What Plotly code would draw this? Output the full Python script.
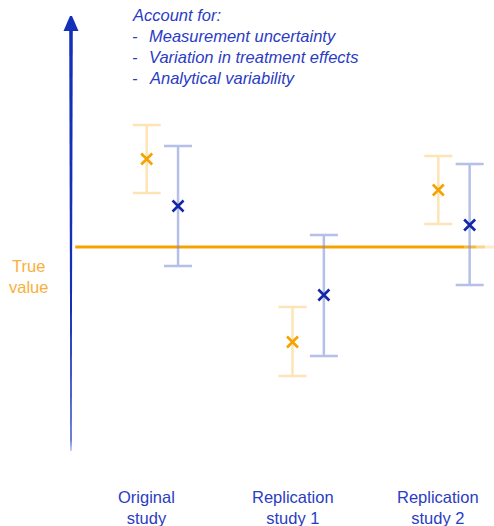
import plotly.graph_objects as go

# Study labels and estimates (effect relative to the true value = 0)
studies = ["Original<br>study", "Replication<br>study 1", "Replication<br>study 2"]

# Reported estimate with its interval
orange_est = [8.8, -9.5, 5.7]
orange_hi = [12.2, -6.0, 9.1]
orange_lo = [5.4, -12.9, 2.3]

# Estimate accounting for additional sources of variability
blue_est = [4.1, -4.8, 2.2]
blue_hi = [10.1, 1.2, 8.3]
blue_lo = [-1.9, -10.9, -3.8]

true_value = 0.0

notes_title = "Account for:"
notes = ["Measurement uncertainty",
         "Variation in treatment effects",
         "Analytical variability"]

ORANGE = "#f5a300"
ORANGE_LIGHT = "rgba(253,205,120,0.55)"
BLUE = "#1228a8"
BLUE_LIGHT = "rgba(120,138,214,0.55)"
AXIS_BLUE = "#1530b8"
TEXT_BLUE = "#2b3cc4"
TEXT_ORANGE = "#f7b03c"

xs = list(range(len(studies)))
blue_offset = 0.215
font_family = "'Liberation Sans', Arial, sans-serif"

fig = go.Figure()

# True value reference line, fading out at the right end
line_start = -0.49
fade_steps = [(line_start, 2.18, 1.0), (2.18, 2.26, 0.75), (2.26, 2.32, 0.45), (2.32, 2.38, 0.2)]
for x0, x1, op in fade_steps:
    fig.add_shape(type="line", xref="x", yref="y", x0=x0, x1=x1,
                  y0=true_value, y1=true_value,
                  line=dict(color=ORANGE, width=3), opacity=op, layer="below")

fig.add_trace(go.Scatter(
    x=xs, y=orange_est, mode="markers",
    marker=dict(symbol="x-thin", size=11, line=dict(color=ORANGE, width=2.6)),
    error_y=dict(type="data", symmetric=False,
                 array=[h - e for h, e in zip(orange_hi, orange_est)],
                 arrayminus=[e - l for e, l in zip(orange_est, orange_lo)],
                 color=ORANGE_LIGHT, thickness=2.5, width=14),
    showlegend=False, hoverinfo="skip"))

fig.add_trace(go.Scatter(
    x=[x + blue_offset for x in xs], y=blue_est, mode="markers",
    marker=dict(symbol="x-thin", size=11, line=dict(color=BLUE, width=2.6)),
    error_y=dict(type="data", symmetric=False,
                 array=[h - e for h, e in zip(blue_hi, blue_est)],
                 arrayminus=[e - l for e, l in zip(blue_est, blue_lo)],
                 color=BLUE_LIGHT, thickness=2.5, width=14),
    showlegend=False, hoverinfo="skip"))


def px_x(p):
    return p / 494


def px_y(p):
    return 1 - p / 526


# Vertical arrow axis (tapered shaft + triangular head)
fig.add_shape(type="path", xref="paper", yref="paper",
              path=(f"M {px_x(69.2)} {px_y(28)} L {px_x(72.8)} {px_y(28)} "
                    f"L {px_x(71.6)} {px_y(440)} L {px_x(71.2)} {px_y(451)} "
                    f"L {px_x(70.8)} {px_y(451)} L {px_x(70.4)} {px_y(440)} Z"),
              fillcolor=AXIS_BLUE, line=dict(width=0))
fig.add_shape(type="path", xref="paper", yref="paper",
              path=(f"M {px_x(63.5)} {px_y(31)} L {px_x(78.5)} {px_y(31)} "
                    f"L {px_x(72)} {px_y(16)} L {px_x(70)} {px_y(16)} Z"),
              fillcolor=AXIS_BLUE, line=dict(width=0))

annotations = []
for x, s in zip(xs, studies):
    annotations.append(dict(x=x, y=px_y(507), xref="x", yref="paper", text=s,
                            showarrow=False, xanchor="center", yanchor="middle",
                            font=dict(family=font_family, size=16.5, color=TEXT_BLUE)))

annotations.append(dict(x=px_x(28), y=px_y(276), xref="paper", yref="paper",
                        text="True<br>value", showarrow=False,
                        xanchor="center", yanchor="middle",
                        font=dict(family=font_family, size=16.5, color=TEXT_ORANGE)))

note_font = dict(family=font_family, size=16.5, color=TEXT_BLUE)
annotations.append(dict(x=px_x(130), y=px_y(15), xref="paper", yref="paper",
                        text=f"<i>{notes_title}</i>", showarrow=False,
                        xanchor="left", yanchor="middle", font=note_font))
for i, line in enumerate(notes):
    y = px_y(36 + 21 * i)
    annotations.append(dict(x=px_x(130), y=y, xref="paper", yref="paper",
                            text="<i>-</i>", showarrow=False,
                            xanchor="left", yanchor="middle", font=note_font))
    annotations.append(dict(x=px_x(147), y=y, xref="paper", yref="paper",
                            text=f"<i>{line}</i>", showarrow=False,
                            xanchor="left", yanchor="middle", font=note_font))

px_per_x = 145.8
x0_px = 146.7
fig.update_layout(
    width=494, height=526,
    margin=dict(l=0, r=0, t=0, b=0),
    paper_bgcolor="white", plot_bgcolor="white",
    xaxis=dict(range=[-x0_px / px_per_x, (494 - x0_px) / px_per_x], visible=False, fixedrange=True),
    yaxis=dict(range=[(247 - 526) / 10, 247 / 10], visible=False, fixedrange=True),
    annotations=annotations,
)

fig.write_html("out.html")
